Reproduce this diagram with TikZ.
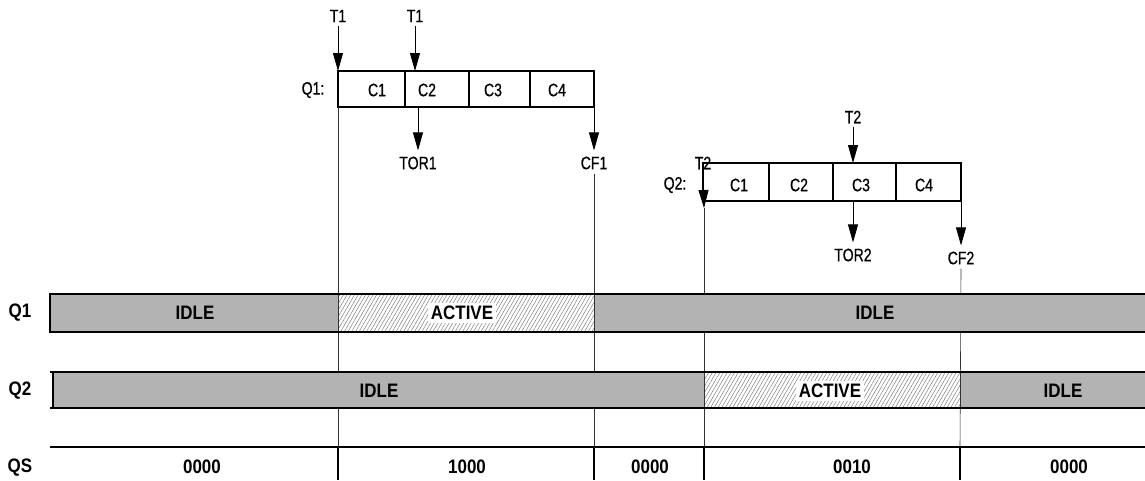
\documentclass[tikz,border=0pt]{standalone}
\usepackage{fontspec}
\setmainfont{Liberation Sans}
\newfontfamily\narrowfont[FakeStretch=0.78,FakeBold=0.6]{Liberation Sans}
\newfontfamily\bnarrowfont[FakeStretch=0.87]{Liberation Sans}
\usetikzlibrary{arrows.meta,patterns.meta}
\definecolor{bargray}{HTML}{B3B3B3}
\definecolor{hatchgray}{HTML}{777777}
\tikzset{
  lbl/.style={font=\narrowfont\fontsize{18}{18}\selectfont, inner sep=0pt},
  blbl/.style={font=\bnarrowfont\bfseries\fontsize{19.5}{19.5}\selectfont, inner sep=0pt},
  wlbl/.style={blbl, fill=white, inner xsep=3pt, inner ysep=3pt},
  arr/.style={-{Triangle[width=10pt,length=18pt]}, line width=0.8pt},
  boxline/.style={line width=1.6pt},
  barline/.style={line width=2pt},
  guide/.style={line width=0.6pt, draw=black!80},
  idlefill/.style={fill=bargray},
  activefill/.style={pattern={Lines[angle=60,distance=3.2pt,line width=0.45pt]}, pattern color=hatchgray},
}
\begin{document}
\begin{tikzpicture}[x=1pt,y=-1pt]
\useasboundingbox (0,0) rectangle (1145,480);

% ---------- Q1 box ----------
\draw[boxline] (338,71) rectangle (594,107);
\draw[boxline] (405,71) -- (405,107) (469,71) -- (469,107) (530,71) -- (530,107);
\node[lbl] (q1lab) at (313,90) {Q1:};
\node[lbl] (q1c1) at (377,90) {C1};
\node[lbl] (q1c2) at (427,90) {C2};
\node[lbl] (q1c3) at (493,90) {C3};
\node[lbl] (q1c4) at (557,90) {C4};

\node[lbl] (t1a) at (338,16) {T1};
\node[lbl] (t1b) at (415,16) {T1};
\coordinate (t1aend) at (338,71);
\coordinate (t1bend) at (415,71);
\draw[arr] (t1a.south) ++(0,4) -- (t1aend);
\draw[arr] (t1b.south) ++(0,4) -- (t1bend);

\coordinate (tor1start) at (418,107);
\node[lbl] (tor1) at (418,163) {TOR1};
\draw[arr] (tor1start) -- ([yshift=6pt]tor1.north);
\coordinate (cf1start) at (594,107);
\node[lbl] (cf1) at (594,163) {CF1};
\draw[arr] (cf1start) -- ([yshift=6pt]cf1.north);

% ---------- Q2 box ----------
\draw[boxline] (703,163) rectangle (961,201);
\draw[boxline] (769,163) -- (769,201) (833,163) -- (833,201) (896,163) -- (896,201);
\node[lbl] (q2lab) at (675,185) {Q2:};
\node[lbl] (q2c1) at (739,185) {C1};
\node[lbl] (q2c2) at (799,185) {C2};
\node[lbl] (q2c3) at (861,185) {C3};
\node[lbl] (q2c4) at (924,185) {C4};

\node[lbl] (t2b) at (853,117) {T2};
\coordinate (t2bend) at (853,163);
\draw[arr] (t2b.south) ++(0,4) -- (t2bend);
\node[lbl] (t2a) at (703,163) {T2};
\coordinate (t2aend) at (704,208);
\draw[arr] (t2a.south) -- (t2aend);

\coordinate (tor2start) at (853,201);
\node[lbl] (tor2) at (853,255) {TOR2};
\draw[arr] (tor2start) -- ([yshift=6pt]tor2.north);
\coordinate (cf2start) at (961,201);
\node[lbl] (cf2) at (961,258) {CF2};
\draw[arr] (cf2start) -- ([yshift=6pt]cf2.north);

% ---------- guide lines (behind bars) ----------
\coordinate (g1a) at (338,107); \coordinate (g1b) at (338,447);
\coordinate (g2b) at (594,447);
\coordinate (g3b) at (704,447);
\coordinate (g4b) at (960,447);
\draw[guide] (g1a) -- (g1b);
\draw[guide] ([yshift=-4pt]cf1.south) -- (g2b);
\draw[guide] (t2aend) -- (g3b);
\draw[guide] ([yshift=-4pt]cf2.south) -- (g4b);

% ---------- bars ----------
\fill[idlefill] (50,294) rectangle (338,332);
\fill[white] (338,294) rectangle (594,332);
\fill[activefill] (338,294) rectangle (594,332);
\fill[idlefill] (594,294) rectangle (1145,332);
\fill[idlefill] (53,372) rectangle (704,408);
\fill[white] (704,372) rectangle (960,408);
\fill[activefill] (704,372) rectangle (960,408);
\fill[idlefill] (960,372) rectangle (1145,408);
\draw[guide] (338,294) -- (338,332) (594,294) -- (594,332);
\draw[guide] (704,372) -- (704,408) (960,372) -- (960,408);

\draw[barline] (1145,294) -- (50,294) -- (50,332) -- (1145,332);
\draw[barline] (1145,372) -- (50,372) (53,372) -- (53,408) (50,408) -- (1145,408);
\draw[barline] (50,447) -- (1145,447);
\draw[barline] (338,447) -- (338,480) (594,447) -- (594,480) (704,447) -- (704,480) (960,447) -- (960,480);

% bar labels
\node[blbl] (rq1) at (20,313) {Q1};
\node[blbl] (rq2) at (20,391) {Q2};
\node[blbl] (rqs) at (20,468) {QS};

\node[blbl] (q1idle1) at (195,313) {IDLE};
\node[wlbl] (q1act) at (462,313) {ACTIVE};
\node[blbl] (q1idle2) at (875,313) {IDLE};
\node[blbl] (q2idle1) at (379,391) {IDLE};
\node[wlbl] (q2act) at (830,391) {ACTIVE};
\node[blbl] (q2idle2) at (1063,391) {IDLE};

\node[blbl] (qs1) at (202,467) {0000};
\node[blbl] (qs2) at (467,467) {1000};
\node[blbl] (qs3) at (650,467) {0000};
\node[blbl] (qs4) at (852,467) {0010};
\node[blbl] (qs5) at (1069,467) {0000};
\end{tikzpicture}
\end{document}
